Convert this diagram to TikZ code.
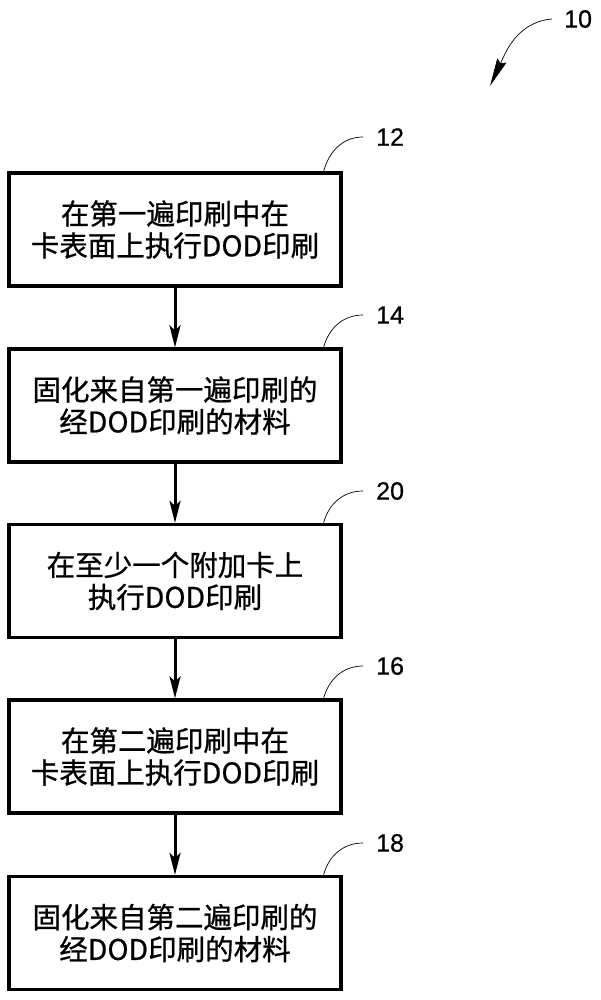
\documentclass[tikz,border=0pt]{standalone}
\usepackage{fontspec}
\setmainfont{Noto Sans CJK SC}[FakeBold=0.8]
\newfontfamily\numfont{Liberation Sans}[FakeBold=0.6]
\usetikzlibrary{arrows.meta}
\usetikzlibrary{positioning}

\tikzset{
  stepbox/.style={draw, line width=3.2pt, minimum width=332pt, minimum height=113pt,
    align=center, inner sep=0pt, font=\fontsize{28.5}{32}\selectfont},
  reflabel/.style={inner sep=0pt, font=\numfont\fontsize{25}{25}\selectfont},
  flow/.style={line width=3pt, -{Stealth[length=22pt,width=11pt,inset=5pt]}},
  leader/.style={line width=0.7pt}
}

\begin{document}
\begin{tikzpicture}[x=1pt,y=-1pt]
\useasboundingbox (0,0) rectangle (601,1000);

				%boxes
				\node[stepbox] (b12) at (175,229.5) {在第一遍印刷中在\\卡表面上执行DOD印刷};
				\node[stepbox] (b14) at (175,405.5) {固化来自第一遍印刷的\\经DOD印刷的材料};
				\node[stepbox] (b20) at (175,581) {在至少一个附加卡上\\执行DOD印刷};
				\node[stepbox] (b16) at (175,756.5) {在第二遍印刷中在\\卡表面上执行DOD印刷};
				\node[stepbox] (b18) at (175,933) {固化来自第二遍印刷的\\经DOD印刷的材料};
				
				% add arrows
				\draw[flow] (b12) -- (b14);
				\draw[flow] (b14) -- (b20);
				\draw[flow] (b20) -- (b16);
				\draw[flow] (b16) -- (b18);
				
				% reference numbers
				\node[reflabel, anchor=west] (l12) at (376,137) {12};
				\node[reflabel, anchor=west] (l14) at (376,315) {14};
				\node[reflabel, anchor=west] (l20) at (376,491) {20};
				\node[reflabel, anchor=west] (l16) at (376,666) {16};
				\node[reflabel, anchor=west] (l18) at (376,843) {18};
				\node[reflabel, anchor=west] (l10) at (564,19) {10};
				
				\draw[leader] ([xshift=-19pt]b12.north east) to[out=75,in=180] ([xshift=-13pt]l12.west);
				\draw[leader] ([xshift=-19pt]b14.north east) to[out=75,in=180] ([xshift=-13pt]l14.west);
				\draw[leader] ([xshift=-19pt]b20.north east) to[out=75,in=180] ([xshift=-13pt]l20.west);
				\draw[leader] ([xshift=-19pt]b16.north east) to[out=75,in=180] ([xshift=-13pt]l16.west);
				\draw[leader] ([xshift=-19pt]b18.north east) to[out=75,in=180] ([xshift=-13pt]l18.west);
				
				% draw point
				\coordinate (t10) at (490,86);
				\draw[leader, -{Stealth[length=28pt,width=10pt,inset=3pt]}] ([xshift=-12pt]l10.west) to[out=185,in=65] (t10);
\end{tikzpicture}
\end{document}
